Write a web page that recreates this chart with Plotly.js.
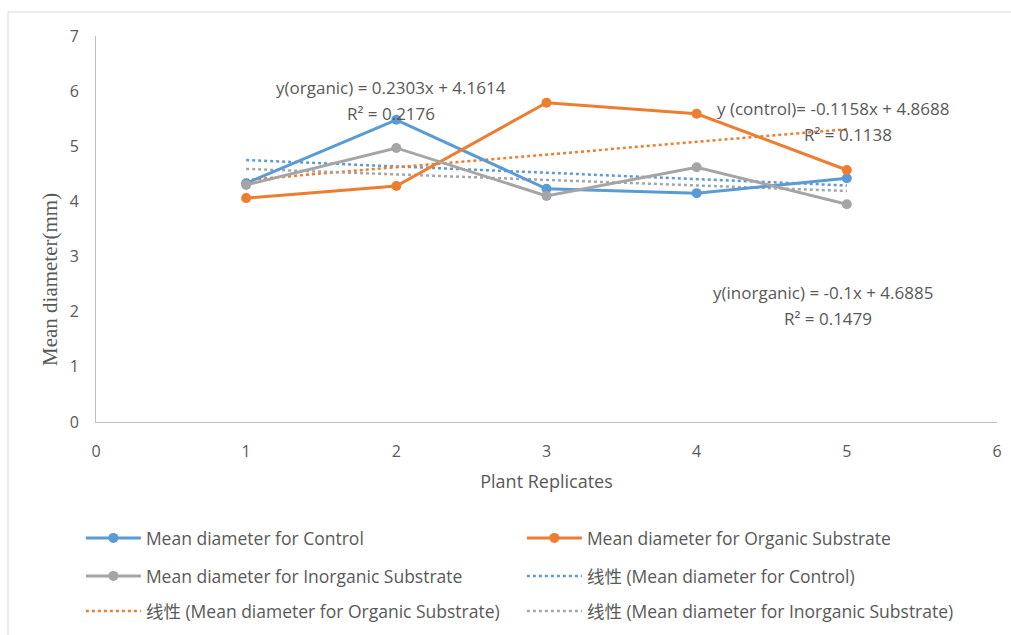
<!DOCTYPE html>
<html><head><meta charset="utf-8">
<script src="https://cdn.plot.ly/plotly-3.0.1.min.js"></script>
<style>html,body{margin:0;padding:0;background:#fff;}#chart{width:1011px;height:635px;}</style>
</head><body><div id="chart"></div>
<script>
const replicates = [1, 2, 3, 4, 5];
const controlMean = [4.33, 5.48, 4.23, 4.15, 4.42];
const organicMean = [4.06, 4.28, 5.79, 5.59, 4.57];
const inorganicMean = [4.30, 4.97, 4.10, 4.62, 3.95];
// trendline endpoints (x = 1 and x = 5)
const trendX = [1, 5];
const controlTrend = [4.75, 4.29];
const organicTrend = [4.39, 5.31];
const inorganicTrend = [4.59, 4.19];
const xTicks = [0, 1, 2, 3, 4, 5, 6];
const yTicks = [0, 1, 2, 3, 4, 5, 6, 7];

const BLUE = '#5B9BD5', ORANGE = '#ED7D31', GRAY = '#A5A5A5';
const FONT = 'Open Sans, Noto Sans CJK SC, sans-serif';
const TXT = '#595959';

function lineTrace(name, y, color, leg) {
  return {x: replicates, y: y, name: name, type: 'scatter', mode: 'lines+markers',
    line: {color: color, width: 3}, marker: {color: color, size: 10}, legend: leg};
}
function trendTrace(name, y, color, leg) {
  return {x: trendX, y: y, name: name, type: 'scatter', mode: 'lines',
    line: {color: color, width: 2.5, dash: 'dot'}, legend: leg};
}
const data = [
  trendTrace('线性 (Mean diameter for Control)', controlTrend, BLUE, 'legend2'),
  trendTrace('线性 (Mean diameter for Organic Substrate)', organicTrend, ORANGE, 'legend3'),
  trendTrace('线性 (Mean diameter for Inorganic Substrate)', inorganicTrend, GRAY, 'legend3'),
  lineTrace('Mean diameter for Control', controlMean, BLUE, 'legend'),
  lineTrace('Mean diameter for Organic Substrate', organicMean, ORANGE, 'legend'),
  lineTrace('Mean diameter for Inorganic Substrate', inorganicMean, GRAY, 'legend2'),
];
data[5].legendrank = 1; data[0].legendrank = 2;
data[1].legendrank = 1; data[2].legendrank = 2;
data[3].legendrank = 1; data[4].legendrank = 2;

const legBase = {orientation: 'h', entrywidth: 371, entrywidthmode: 'pixels', itemwidth: 55,
  xref: 'container', yref: 'container',
  xanchor: 'left', yanchor: 'middle', x: 0.080, font: {family: FONT, size: 17.5, color: TXT},
  bgcolor: 'rgba(0,0,0,0)', traceorder: 'normal'};

function ann(text, x, y, extra) {
  return Object.assign({text: text, xref: 'paper', yref: 'paper', x: x, y: y, showarrow: false,
    xanchor: 'center', yanchor: 'middle', font: {family: FONT, size: 17, color: TXT}}, extra || {});
}
const px = p => (p - 96) / 901, py = p => (422 - p) / 386, cy = p => 1 - p / 635;

const layout = {
  width: 1011, height: 635,
  margin: {l: 96, r: 14, t: 36, b: 213},
  paper_bgcolor: '#fff', plot_bgcolor: '#fff',
  font: {family: FONT, color: TXT},
  xaxis: {range: [0, 6], tickvals: xTicks, showgrid: false, zeroline: false,
    showline: true, linecolor: '#BFBFBF', linewidth: 1, ticks: '', ticklabelstandoff: 15,
    tickfont: {family: FONT, size: 16, color: TXT},
    title: {text: 'Plant Replicates', font: {family: FONT, size: 18, color: TXT}, standoff: 14}},
  yaxis: {range: [0, 7], tickvals: yTicks, showgrid: false, zeroline: false,
    showline: true, linecolor: '#BFBFBF', linewidth: 1, ticks: '', ticklabelstandoff: 13,
    tickfont: {family: FONT, size: 16, color: TXT}},
  legend: Object.assign({}, legBase, {y: cy(538)}),
  legend2: Object.assign({}, legBase, {y: cy(576)}),
  legend3: Object.assign({}, legBase, {y: cy(611)}),
  annotations: [
    ann('Mean diameter(mm)', px(50), py(280), {textangle: -90,
      font: {family: 'Liberation Serif, serif', size: 21, color: TXT}}),
    ann('y(organic) = 0.2303x + 4.1614', px(391), py(87)),
    ann('R² = 0.2176', px(391), py(113)),
    ann('y (control)= -0.1158x + 4.8688', px(833), py(108)),
    ann('R² = 0.1138', px(848), py(134)),
    ann('y(inorganic) = -0.1x + 4.6885', px(823), py(293)),
    ann('R² = 0.1479', px(828), py(318)),
  ],
  shapes: [{type: 'rect', xref: 'paper', yref: 'paper', x0: px(8), x1: px(1030), y0: py(660), y1: py(12),
    line: {color: '#D9D9D9', width: 1}, layer: 'below'}],
  showlegend: true,
};
Plotly.newPlot('chart', data, layout, {displayModeBar: false, staticPlot: true});
</script></body></html>
